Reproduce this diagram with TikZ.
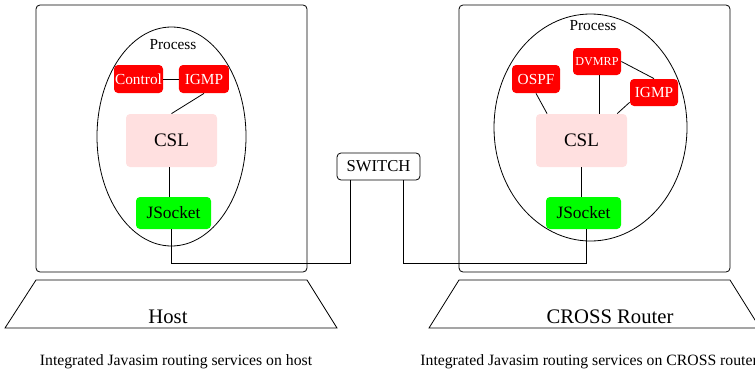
\documentclass[tikz,border=0pt]{standalone}
\usepackage{fontspec}
\setmainfont{Liberation Serif}
\usepackage{tikz}
\usetikzlibrary{calc,positioning,shapes.geometric}
\definecolor{cslpink}{RGB}{255,224,224}
\tikzset{%
	machine/.style  = {draw, rectangle, rounded corners=3pt, minimum width=203.25pt, minimum height=200.25pt}, % Host / router
	proc/.style     = {draw, ellipse, inner sep=0pt}, % Process
	proto/.style    = {fill=red, text=white, rectangle, rounded corners=3pt, inner sep=0pt, minimum width=36.75pt, minimum height=21pt, font=\fontsize{11.5}{13}\selectfont}, % Protocol
	csl/.style      = {fill=cslpink, rectangle, rounded corners=3pt, minimum width=68.25pt, minimum height=39.75pt, font=\fontsize{14.3}{16}\selectfont}, % CSL
	sock/.style     = {fill=green, rectangle, rounded corners=3pt, minimum width=56.25pt, minimum height=24pt, font=\fontsize{13}{15}\selectfont}, % JSocket
	switchbox/.style= {draw, fill=white, rectangle, rounded corners=3pt, minimum width=62.25pt, minimum height=20.25pt, inner sep=0pt, font=\fontsize{12.5}{14}\selectfont}, % Switch
	proctext/.style = {anchor=base, inner sep=0pt, font=\fontsize{11.5}{13}\selectfont},
	basename/.style = {inner sep=0pt, font=\fontsize{15.5}{18}\selectfont},
	captext/.style  = {anchor=base, inner sep=0pt, font=\fontsize{11.8}{14}\selectfont},
}
\begin{document}
\begin{tikzpicture}[x=0.75pt, y=-0.75pt, line width=0.6pt]
	\clip (0,0) rectangle (755,371);
	% host
	\node[machine] (hhost) at (171.5,138.5) {};
	\node[proc, minimum width=111.75pt, minimum height=164.25pt] (hproc) at (171.5,136.5) {};
	\node[proctext] (hptext) at (173,49.3) {Process};
	\node[proto] (hctl) at (138.5,79) {Control};
	\node[proto, right of=hctl, node distance=49.1pt, minimum width=37.5pt] (higmp) {IGMP};
	\node[csl] (hcsl) at (171.5,140.5) {CSL};
	\node[sock] (hsock) at (173.5,213) {JSocket};
	\draw (hctl) -- (higmp);
	\draw (higmp.south) -- (hcsl.north);
	\draw ([xshift=-1.9pt]hcsl.south) -- ([xshift=-1.9pt]hcsl.south |- hsock.north);
	% router
	\node[machine] (rhost) at (594.5,138.5) {};
	\node[proc, minimum width=144.75pt, minimum height=170.25pt] (rproc) at (590.5,127.5) {};
	\node[proctext] (rptext) at (593,30.7) {Process};
	\node[proto, minimum width=36pt] (rospf) at (536,79) {OSPF};
	\node[proto, minimum width=36pt, minimum height=20.25pt, font=\fontsize{9.1}{11}\selectfont] (rdv) at (597,61.5) {DVMRP};
	\node[proto, minimum width=36pt, minimum height=20.25pt] (rigmp) at (654,92.5) {IGMP};
	\node[csl] (rcsl) at (581.5,140.5) {CSL};
	\node[sock] (rsock) at (583.5,213) {JSocket};
	\draw (rospf.south) -- (rcsl.142);
	\draw ([xshift=1.5pt]rdv.south) -- ([xshift=1.5pt]rdv.south |- rcsl.north);
	\draw (rigmp.202) -- (rcsl.37);
	\draw (rdv.east) -- (rigmp.north);
	\draw (rcsl.south) -- (rcsl.south |- rsock.north);
	% switch and wires
	\node[switchbox] (sw) at (378.5,166.5) {SWITCH};
	\coordinate (swl) at ([xshift=-21.4pt]sw.south);
	\coordinate (swr) at ([xshift=18.4pt]sw.south);
	\draw ([xshift=-1.9pt]hsock.south) -- ++(0,34) -| (swl);
	\draw (swr) -- ++(0,83) -| ([xshift=1.9pt]rsock.south);
	% bases
	\draw (36,280) -- (307,280) -- (337,328) -- (5,328) -- cycle;
	\draw (459,280) -- (730,280) -- (760,328) -- (429,328) -- cycle;
	\node[basename] (hname) at (168,317) {Host};
	\node[basename] (rname) at (610,317) {CROSS Router};
	\node[captext] (hcap) at (176,365) {Integrated Javasim routing services on host};
	\node[captext, anchor=base west] (rcap) at (420,365) {Integrated Javasim routing services on CROSS router};
\end{tikzpicture}
\end{document}
